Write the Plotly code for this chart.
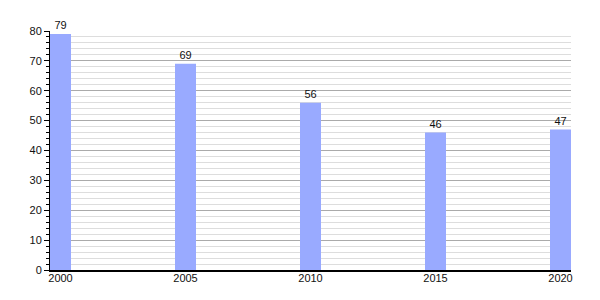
import plotly.graph_objects as go

years = [2000, 2005, 2010, 2015, 2020]
values = [79, 69, 56, 46, 47]
tick_labels = ["2000", "2005", "2010", "2015", "2020"]

fig = go.Figure()
fig.add_trace(go.Bar(
    x=years, y=values, width=0.84,
    marker=dict(color="#99aaff", line=dict(width=0)),
    text=[str(v) for v in values], textposition="outside",
    textfont=dict(family="Liberation Sans, Arial", size=11, color="#111"),
    cliponaxis=False,
))
fig.update_layout(
    width=600, height=300,
    margin=dict(l=50, r=29, t=31, b=30),
    paper_bgcolor="white", plot_bgcolor="white",
    showlegend=False,
    font=dict(family="Liberation Sans, Arial", size=11, color="#111"),
    xaxis=dict(
        range=[1999.58, 2020.42],
        tickvals=years, ticktext=tick_labels,
        showgrid=False, zeroline=False,
        showline=True, linecolor="black", linewidth=2,
        ticks="", ticklen=0, ticklabelstandoff=-3,
    ),
    yaxis=dict(
        range=[0, 80], dtick=10, tick0=0,
        showline=True, linecolor="black", linewidth=1,
        ticks="outside", ticklen=5, tickcolor="black",
        gridcolor="#aaaaaa", gridwidth=1,
        zeroline=False,
        minor=dict(dtick=2, ticks="outside", ticklen=3, tickcolor="black",
                   showgrid=True, gridcolor="#dddddd", gridwidth=1),
    ),
)
fig.write_html("out.html")
